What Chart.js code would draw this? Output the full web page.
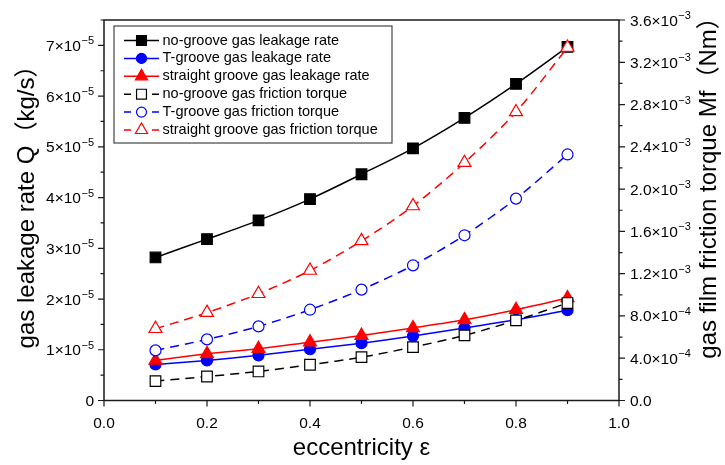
<!DOCTYPE html>
<html>
<head>
<meta charset="utf-8">
<script src="https://cdn.jsdelivr.net/npm/chart.js@4.4.1/dist/chart.umd.min.js"></script>
<style>
  html, body { margin: 0; padding: 0; background: #fff; }
  #wrap { width: 725px; height: 465px; }
</style>
</head>
<body>
<div id="wrap"><canvas id="c" width="725" height="465"></canvas></div>
<script>
// Eccentricity values (x axis)
const eccentricity = [0.1, 0.2, 0.3, 0.4, 0.5, 0.6, 0.7, 0.8, 0.9];

// Gas leakage rate Q (kg/s), left axis
const noGrooveLeak   = [2.82e-5, 3.18e-5, 3.55e-5, 3.97e-5, 4.46e-5, 4.97e-5, 5.57e-5, 6.24e-5, 6.97e-5];
const tGrooveLeak    = [0.71e-5, 0.79e-5, 0.89e-5, 1.01e-5, 1.13e-5, 1.27e-5, 1.43e-5, 1.59e-5, 1.78e-5];
const straightLeak   = [0.79e-5, 0.92e-5, 1.02e-5, 1.15e-5, 1.28e-5, 1.43e-5, 1.59e-5, 1.79e-5, 2.02e-5];

// Gas film friction torque Mf (Nm), right axis
const noGrooveTorque = [1.83e-4, 2.27e-4, 2.75e-4, 3.38e-4, 4.10e-4, 5.05e-4, 6.16e-4, 7.58e-4, 9.22e-4];
const tGrooveTorque  = [4.74e-4, 5.78e-4, 7.01e-4, 8.59e-4, 10.49e-4, 12.79e-4, 15.63e-4, 19.10e-4, 23.28e-4];
const straightTorque = [6.79e-4, 8.31e-4, 10.10e-4, 12.30e-4, 15.10e-4, 18.40e-4, 22.50e-4, 27.30e-4, 33.40e-4];

// Series names
const seriesNames = [
  'no-groove gas leakage rate',
  'T-groove gas leakage rate',
  'straight groove gas leakage rate',
  'no-groove gas friction torque',
  'T-groove gas friction torque',
  'straight groove gas friction torque'
];

// Axis tick values
const xTicks = [0.0, 0.2, 0.4, 0.6, 0.8, 1.0];
const leftTicks = [0, 1e-5, 2e-5, 3e-5, 4e-5, 5e-5, 6e-5, 7e-5];
const rightTicks = [0, 4e-4, 8e-4, 12e-4, 16e-4, 20e-4, 24e-4, 28e-4, 32e-4, 36e-4];

const xTitle = 'eccentricity ε';
const leftTitle = 'gas leakage rate Q（kg/s）';
const rightTitle = 'gas film friction torque Mf（Nm）';

const FONT_FAMILY = '"Liberation Sans", Arial, "Noto Sans CJK SC", sans-serif';
const TICK_PX = 15.5;
const SUP_PX = 11;
const TITLE_PX = 24;
const DASH = [9, 6];

function pts(ys) { return eccentricity.map((x, i) => ({ x: x, y: ys[i] })); }

function series(i, ys, axis, color, style, radius, filled, dashed) {
  return {
    label: seriesNames[i],
    data: pts(ys),
    yAxisID: axis,
    borderColor: color,
    borderWidth: 1.5,
    borderDash: dashed ? DASH : [],
    pointStyle: style,
    pointRadius: radius,
    pointHoverRadius: radius,
    pointBorderColor: color,
    pointBackgroundColor: filled ? color : '#ffffff',
    pointBorderWidth: 1.2,
    tension: 0.3,
    fill: false,
    order: 5 - i
  };
}

const datasets = [
  series(0, noGrooveLeak,   'yL', '#000000', 'rect',     7.5, true,  false),
  series(1, tGrooveLeak,    'yL', '#0000ff', 'circle',   5.5, true,  false),
  series(2, straightLeak,   'yL', '#ff0000', 'triangle', 7.5, true,  false),
  series(3, noGrooveTorque, 'yR', '#000000', 'rect',     7.5, false, true),
  series(4, tGrooveTorque,  'yR', '#0000ff', 'circle',   5.5, false, true),
  series(5, straightTorque, 'yR', '#ff0000', 'triangle', 7.5, false, true)
];

// Draws "m×10^e" with a raised exponent; y is the text baseline
function drawSci(ctx, mant, exp, x, y, align) {
  const base = mant + '×10';
  ctx.font = TICK_PX + 'px ' + FONT_FAMILY;
  const wb = ctx.measureText(base).width;
  ctx.font = SUP_PX + 'px ' + FONT_FAMILY;
  const we = ctx.measureText(exp).width;
  const total = wb + we + 0.5;
  const sx = align === 'right' ? x - total : x;
  ctx.textAlign = 'left';
  ctx.textBaseline = 'alphabetic';
  ctx.font = TICK_PX + 'px ' + FONT_FAMILY;
  ctx.fillText(base, sx, y);
  ctx.font = SUP_PX + 'px ' + FONT_FAMILY;
  ctx.fillText(exp, sx + wb + 0.5, y - 6.5);
}

function drawPlain(ctx, text, x, y, align) {
  ctx.font = TICK_PX + 'px ' + FONT_FAMILY;
  ctx.textAlign = align;
  ctx.textBaseline = 'alphabetic';
  ctx.fillText(text, x, y);
}

const framePlugin = {
  id: 'frameAxes',
  afterDatasetsDraw(chart) {
    const ctx = chart.ctx;
    const a = chart.chartArea;
    const xs = chart.scales.x, yl = chart.scales.yL, yr = chart.scales.yR;
    ctx.save();
    ctx.strokeStyle = '#1a1a1a';
    ctx.fillStyle = '#1a1a1a';
    ctx.lineWidth = 1.5;
    ctx.setLineDash([]);
    ctx.strokeRect(a.left, a.top, a.right - a.left, a.bottom - a.top);

    ctx.lineWidth = 1.2;
    ctx.beginPath();
    // x ticks: major every 0.2, minor every 0.1
    for (let k = 0; k <= 10; k++) {
      const px = xs.getPixelForValue(k / 10);
      const len = k % 2 === 0 ? 6 : 3.5;
      ctx.moveTo(px, a.bottom); ctx.lineTo(px, a.bottom + len);
    }
    // left ticks: major every 1e-5, minor every 0.5e-5
    for (let k = 0; k <= 15; k++) {
      const py = yl.getPixelForValue(k * 0.5e-5);
      const len = k % 2 === 0 ? 6 : 3.5;
      ctx.moveTo(a.left, py); ctx.lineTo(a.left - len, py);
    }
    // right ticks: major every 4e-4, minor every 2e-4
    for (let k = 0; k <= 18; k++) {
      const py = yr.getPixelForValue(k * 2e-4);
      const len = k % 2 === 0 ? 6 : 3.5;
      ctx.moveTo(a.right, py); ctx.lineTo(a.right + len, py);
    }
    ctx.stroke();

    // tick labels
    ctx.fillStyle = '#000';
    xTicks.forEach(v => drawPlain(ctx, v.toFixed(1), xs.getPixelForValue(v), a.bottom + 27, 'center'));
    leftTicks.forEach(v => {
      const py = yl.getPixelForValue(v) + 5.5;
      if (v === 0) drawPlain(ctx, '0', a.left - 10, py, 'right');
      else drawSci(ctx, String(Math.round(v * 1e5)), '−5', a.left - 10, py, 'right');
    });
    rightTicks.forEach(v => {
      const py = yr.getPixelForValue(v) + 5.5;
      if (v === 0) drawPlain(ctx, '0.0', a.right + 11, py, 'left');
      else if (v < 1e-3) drawSci(ctx, (v * 1e4).toFixed(1), '−4', a.right + 11, py, 'left');
      else drawSci(ctx, (v * 1e3).toFixed(1), '−3', a.right + 11, py, 'left');
    });

    // axis titles
    ctx.font = TITLE_PX + 'px ' + FONT_FAMILY;
    ctx.textAlign = 'center';
    ctx.textBaseline = 'alphabetic';
    ctx.fillText(xTitle, (a.left + a.right) / 2, 455);
    ctx.save();
    ctx.translate(34, 201);
    ctx.rotate(-Math.PI / 2);
    ctx.fillText(leftTitle, 0, 0);
    ctx.restore();
    ctx.save();
    ctx.translate(716, 182);
    ctx.rotate(-Math.PI / 2);
    ctx.fillText(rightTitle, 0, 0);
    ctx.restore();

    // legend box
    const lx = 114, ly = 26, lw = 278, lh = 117;
    ctx.fillStyle = '#fff';
    ctx.fillRect(lx, ly, lw, lh);
    ctx.strokeStyle = '#444';
    ctx.lineWidth = 1.2;
    ctx.strokeRect(lx, ly, lw, lh);
    chart.data.datasets.forEach((ds, i) => {
      const cy = ly + 14.5 + i * 17.9;
      const x0 = lx + 10, x1 = lx + 45, xm = (x0 + x1) / 2;
      ctx.strokeStyle = ds.borderColor;
      ctx.lineWidth = 1.5;
      ctx.setLineDash([]);
      ctx.beginPath();
      if (ds.borderDash.length) {
        ctx.moveTo(x0, cy); ctx.lineTo(x0 + 7, cy);
        ctx.moveTo(x1 - 7, cy); ctx.lineTo(x1, cy);
      } else {
        ctx.moveTo(x0, cy); ctx.lineTo(x1, cy);
      }
      ctx.stroke();
      ctx.fillStyle = ds.pointBackgroundColor;
      ctx.strokeStyle = ds.pointBorderColor;
      ctx.lineWidth = ds.pointBorderWidth;
      Chart.helpers.drawPoint(ctx, { pointStyle: ds.pointStyle, radius: ds.pointRadius - 0.5, borderWidth: ds.pointBorderWidth, rotation: 0 }, xm, cy);
      ctx.fillStyle = '#000';
      ctx.font = '14.5px ' + FONT_FAMILY;
      ctx.textAlign = 'left';
      ctx.textBaseline = 'middle';
      ctx.fillText(ds.label, lx + 48.5, cy);
    });
    ctx.restore();
  }
};

new Chart(document.getElementById('c'), {
  type: 'line',
  data: { datasets: datasets },
  options: {
    responsive: false,
    animation: false,
    devicePixelRatio: 1,
    layout: { padding: { top: 20, left: 0, right: 0, bottom: 0 } },
    plugins: { legend: { display: false }, tooltip: { enabled: false } },
    scales: {
      x: {
        type: 'linear', min: 0, max: 1,
        grid: { display: false }, border: { display: false },
        ticks: { display: false },
        afterFit(s) { s.height = 64.5; }
      },
      yL: {
        type: 'linear', position: 'left', min: 0, max: 7.5e-5,
        grid: { display: false }, border: { display: false },
        ticks: { display: false },
        afterFit(s) { s.width = 104; }
      },
      yR: {
        type: 'linear', position: 'right', min: 0, max: 3.6e-3,
        grid: { display: false }, border: { display: false },
        ticks: { display: false },
        afterFit(s) { s.width = 106; }
      }
    }
  },
  plugins: [framePlugin]
});
</script>
</body>
</html>
